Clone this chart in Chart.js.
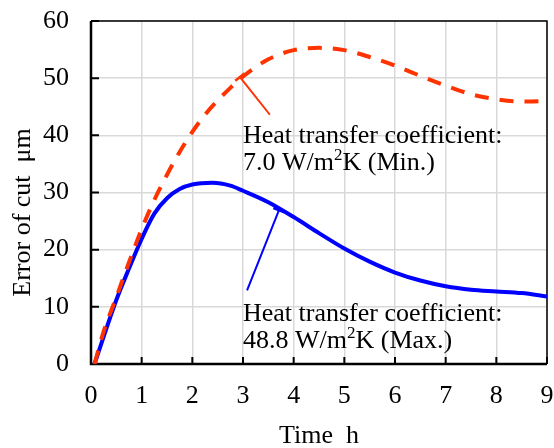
<!DOCTYPE html>
<html>
<head>
<meta charset="utf-8">
<script src="https://cdn.jsdelivr.net/npm/chart.js@4.4.1/dist/chart.umd.min.js"></script>
<style>
html,body{margin:0;padding:0;background:#fff;}
#wrap{width:554px;height:448px;position:relative;}
</style>
</head>
<body>
<div id="wrap"><canvas id="c" width="554" height="448"></canvas></div>
<script>
// ---- data ----
const xTickLabels = ["0","1","2","3","4","5","6","7","8","9"];
const yTickLabels = ["0","10","20","30","40","50","60"];
const timeMin  = [0.07,0.25,0.5,0.75,1,1.25,1.5,1.75,2,2.25,2.5,2.75,3,3.5,4,4.5,5,5.5,6,6.5,7,7.5,8,8.5,9];
const errorMin = [0,5.7,11.7,17.8,23.6,28.7,33.1,37.1,40.6,43.6,46.1,48.3,50.3,53.3,54.9,55.3,54.9,53.7,52.2,50.4,48.7,47.2,46.3,45.9,46];
const timeMax  = [0.07,0.25,0.5,0.75,1,1.25,1.5,1.75,2,2.4,2.75,3,3.5,4,4.5,5,5.5,6,6.5,7,7.5,8,8.5,9];
const errorMax = [0,4.8,11.2,16.7,21.9,26.3,29,30.6,31.4,31.7,31.2,30.3,28.3,25.7,22.9,20.2,17.9,16,14.6,13.6,13,12.7,12.4,11.8];
const labelMinLines = ["Heat transfer coefficient:", "7.0 W/m", "2", "K (Min.)"];
const labelMaxLines = ["Heat transfer coefficient:", "48.8 W/m", "2", "K (Max.)"];
const xTitle = "Time  h";
const yTitle = "Error of cut  \u03bcm";
// leader lines: [curve point x,y], [end x,y] ; text anchor x,y (data units)
const leaderMin = [[2.94,50.2],[3.53,43.6]];
const leaderMax = [[3.71,26.9],[3.08,12.9]];
const textMin = [3.0,38.7];
const textMax = [3.0,7.5];

const FONT = "'Liberation Serif','Times New Roman',serif";
const RED = '#ff3300', BLUE = '#0000ff';

function pts(xs, ys){ return xs.map((x,i)=>({x:x,y:ys[i]})); }

const deco = {
  id:'deco',
  beforeDatasetsDraw(chart){
    const {ctx, chartArea:a} = chart;
    ctx.save();
    ctx.strokeStyle = '#000';
    ctx.lineWidth = 1.5;
    ctx.beginPath();
    ctx.moveTo(a.left, a.top); ctx.lineTo(a.right, a.top); ctx.lineTo(a.right, a.bottom);
    ctx.stroke();
    ctx.lineWidth = 2.5;
    ctx.beginPath();
    ctx.moveTo(a.left, a.top); ctx.lineTo(a.left, a.bottom); ctx.lineTo(a.right, a.bottom);
    ctx.stroke();
    const xs = chart.scales.x, ys = chart.scales.y;
    ctx.lineWidth = 2;
    ctx.beginPath();
    xs.ticks.forEach(t=>{ const px = xs.getPixelForValue(t.value); ctx.moveTo(px, a.bottom); ctx.lineTo(px, a.bottom-7); });
    ys.ticks.forEach(t=>{ const py = ys.getPixelForValue(t.value); ctx.moveTo(a.left, py); ctx.lineTo(a.left+8, py); });
    ctx.stroke();
    ctx.restore();
  },
  afterDatasetsDraw(chart){
    const {ctx, chartArea:a} = chart;
    const xs = chart.scales.x, ys = chart.scales.y;
    const P = (p)=>[xs.getPixelForValue(p[0]), ys.getPixelForValue(p[1])];
    ctx.save();
    function leader(l, color){
      const p0 = P(l[0]), p1 = P(l[1]);
      ctx.strokeStyle = color; ctx.lineWidth = 2;
      ctx.beginPath(); ctx.moveTo(p0[0],p0[1]); ctx.lineTo(p1[0],p1[1]); ctx.stroke();
      const dx = p1[0]-p0[0], dy = p1[1]-p0[1], L = Math.hypot(dx,dy);
      const nx = -dy/L*6, ny = dx/L*6;
      ctx.lineWidth = 2.5;
      ctx.beginPath(); ctx.moveTo(p0[0]-nx,p0[1]-ny); ctx.lineTo(p0[0]+nx,p0[1]+ny); ctx.stroke();
    }
    leader(leaderMin, RED);
    leader(leaderMax, BLUE);
    function label(lines, anchor, gap){
      const p = P(anchor);
      ctx.fillStyle = '#000';
      ctx.textBaseline = 'alphabetic'; ctx.textAlign = 'left';
      ctx.font = '26px ' + FONT;
      ctx.fillText(lines[0], p[0], p[1]);
      let x = p[0], y = p[1] + gap;
      ctx.fillText(lines[1], x, y); x += ctx.measureText(lines[1]).width;
      ctx.font = '17px ' + FONT;
      ctx.fillText(lines[2], x, y-10); x += ctx.measureText(lines[2]).width;
      ctx.font = '26px ' + FONT;
      ctx.fillText(lines[3], x, y);
    }
    label(labelMinLines, textMin, 27);
    label(labelMaxLines, textMax, 27);
    ctx.fillStyle = '#000';
    ctx.font = '26px ' + FONT;
    ctx.textAlign = 'center'; ctx.textBaseline = 'alphabetic';
    ctx.fillText(xTitle, (a.left+a.right)/2, chart.height-5);
    ctx.save();
    ctx.translate(30, (a.top+a.bottom)/2 + 20);
    ctx.rotate(-Math.PI/2);
    ctx.fillText(yTitle, 0, 0);
    ctx.restore();
    ctx.restore();
  }
};

new Chart(document.getElementById('c'), {
  type:'line',
  data:{
    datasets:[
      {label:'Min', data:pts(timeMin, errorMin), borderColor:RED, borderWidth:4, borderDash:[14,11],
       pointRadius:0, cubicInterpolationMode:'monotone', fill:false, order:0},
      {label:'Max', data:pts(timeMax, errorMax), borderColor:BLUE, borderWidth:4,
       pointRadius:0, cubicInterpolationMode:'monotone', fill:false, order:1}
    ]
  },
  options:{
    responsive:false, animation:false,
    layout:{padding:{left:0, top:21, right:7, bottom:0}},
    plugins:{legend:{display:false}, tooltip:{enabled:false}},
    scales:{
      x:{type:'linear', min:0, max:9,
         afterFit(s){ s.height = 84; s.paddingLeft = 0; s.paddingRight = 0; },
         afterBuildTicks(s){ s.ticks = xTickLabels.map(v=>({value:+v})); },
         ticks:{stepSize:1, color:'#000', font:{family:FONT, size:26}, padding:17, maxRotation:0,
                callback:(v,i)=>xTickLabels[i]},
         grid:{color:'#d9d9d9', lineWidth:1.5, drawTicks:false},
         border:{display:false}},
      y:{type:'linear', min:0, max:60,
         afterFit(s){ s.width = 91; s.paddingTop = 0; s.paddingBottom = 0; },
         afterBuildTicks(s){ s.ticks = yTickLabels.map(v=>({value:+v})); },
         ticks:{stepSize:10, color:'#000', font:{family:FONT, size:26}, padding:22,
                callback:(v,i)=>yTickLabels[i]},
         grid:{color:'#d9d9d9', lineWidth:1.5, drawTicks:false},
         border:{display:false}}
    }
  },
  plugins:[deco]
});
</script>
</body>
</html>
